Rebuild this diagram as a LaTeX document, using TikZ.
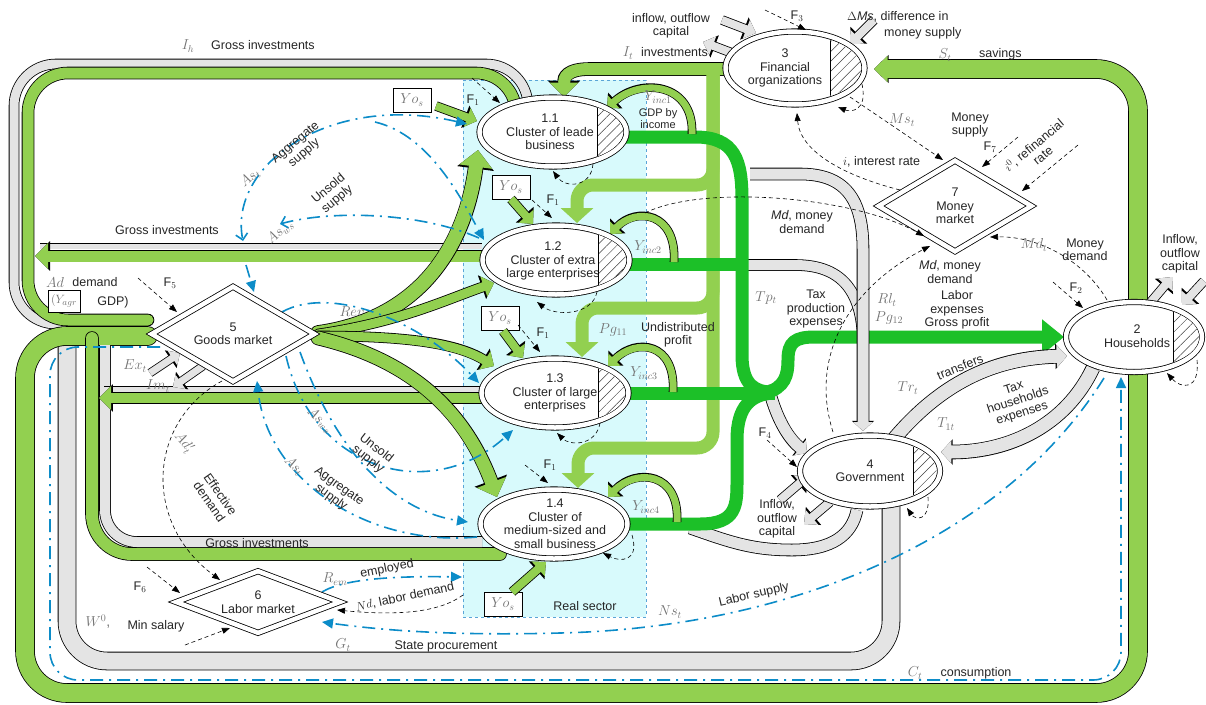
\documentclass[tikz,border=0pt]{standalone}
\usepackage{fontspec}
\setmainfont{Liberation Sans}
\usetikzlibrary{arrows.meta,shapes.geometric,patterns.meta}
\definecolor{gcol}{RGB}{146,208,80}
\definecolor{dgcol}{RGB}{28,192,40}
\definecolor{grcol}{RGB}{228,228,228}
\definecolor{bcol}{RGB}{12,140,200}
\definecolor{rscol}{RGB}{216,250,252}
\definecolor{rsb}{RGB}{90,165,215}
\definecolor{symcol}{RGB}{115,115,115}
\newcommand{\band}[4]{%
  \draw[line width=#1+1.6pt, draw=black, #3] #4;
  \draw[line width=#1, draw=#2, #3] #4;}
\newcommand{\hatchell}[5]{%
  \begin{scope}
    \clip (#1,#2) ellipse [x radius=#3pt, y radius=#4pt];
    \fill[white] (#5,#2-60) rectangle (#1+#3+4,#2+60);
    \fill[pattern={Lines[angle=45,distance=7pt,line width=0.5pt]}, pattern color=black!75] (#5,#2-60) rectangle (#1+#3+4,#2+60);
    \draw[line width=0.7pt] (#5,#2-60) -- (#5,#2+60);
  \end{scope}}
\begin{document}
\begin{tikzpicture}[x=1pt,y=-1pt, font=\fontsize{12.5pt}{13.5pt}\selectfont,
  nd/.style={draw, line width=0.8pt, double, double distance=4.5pt, fill=white, inner sep=0pt},
  ell/.style={nd, ellipse},
  dia/.style={nd, diamond},
  txt/.style={align=center, inner sep=1pt, text=black!85},
  sym/.style={text=symcol, inner sep=0pt, font=\fontsize{14pt}{14pt}\selectfont},
  bl/.style={draw=bcol, line width=1.6pt, dash pattern=on 13pt off 6pt on 2pt off 6pt},
  btip/.style={-{Triangle[width=10pt,length=11pt]}},
  dsh/.style={draw=black, line width=0.6pt, dash pattern=on 4pt off 3pt, -{Triangle[width=6pt,length=8pt]}},
  atip/.style={-{Triangle[width=0pt 2.3,length=0pt 1.2]}},
  gatip/.style={-{Triangle[width=0pt 1.7,length=0pt 0.8]}},
  gbtip/.style={-{Triangle[width=0pt 2.4,length=0pt 1.3]}},
  lgl/.style={draw=gcol, line width=13pt, rounded corners=16pt, -{Triangle[width=32pt,length=15pt]}},
  dg/.style={draw=dgcol, line width=13pt},
  ybox/.style={draw, fill=white, minimum width=38pt, minimum height=24pt, inner sep=0pt, text=symcol, font=\fontsize{14pt}{14pt}\selectfont}]
\useasboundingbox (0,0) rectangle (1206,704);
\fill[white] (0,0) rectangle (1206,704);
% real sector
\node[draw=rsb, dashed, fill=rscol, line width=0.7pt, minimum width=183pt, minimum height=537pt, inner sep=0pt] (rs) at (554.5,348.5) {};
% outer loops
\band{9pt}{grcol}{rounded corners=42pt}{(70,324) -- (14,324) -- (14,64) -- (528,64) [rounded corners=20pt] -- (528,140)}
\band{17pt}{grcol}{rounded corners=40pt}{(891,500) -- (891,661) -- (67,661) -- (67,330)}
\band{18pt}{gcol}{rounded corners=42pt, line cap=round, -{Triangle[width=0pt 1.4,length=0pt 0.75]}}{(148,336) -- (25,336) -- (25,693) -- (1138,693) -- (1138,69) -- (874,69)}
\band{11pt}{gcol}{rounded corners=40pt, line cap=round}{(148,320) -- (28,320) -- (28,73) -- (516,73) [rounded corners=16pt] -- (516,140)}
\band{12pt}{gcol}{rounded corners=40pt, line cap=round}{(500,554) -- (92,554) -- (92,338)}
\band{10pt}{grcol}{rounded corners=32pt}{(482,542) -- (105,542) -- (105,345)}
% middle gross investments
\band{5pt}{grcol}{}{(482,246) -- (40,246)}
\band{11pt}{gcol}{atip}{(482,256) -- (35,256)}
\band{5pt}{grcol}{}{(482,389) -- (104,389)}
\band{10pt}{gcol}{atip}{(482,398) -- (99,398)}
% fan (Rev)
\band{14pt}{gcol}{atip, line cap=round}{(318,333) .. controls (425,318) and (466,240) .. (478,150)}
\band{9pt}{gcol}{atip, line cap=round}{(318,334) .. controls (400,322) and (445,300) .. (494,283)}
\band{9pt}{gcol}{atip, line cap=round}{(318,336) .. controls (400,336) and (455,342) .. (494,366)}
\band{13pt}{gcol}{atip, line cap=round}{(318,338) .. controls (420,362) and (468,420) .. (497,497)}
% grey government bands (under dark green)
\band{10pt}{grcol}{}{(745,265) -- (795,265) .. controls (845,265) and (863,295) .. (863,345)}
\band{11pt}{grcol}{gatip}{(768,385) .. controls (776,420) and (790,440) .. (807,453)}
\band{11pt}{grcol}{}{(690,528) .. controls (730,542) and (752,550) .. (792,550) .. controls (832,550) and (852,535) .. (857,510)}
% light green financial flows
\band{12pt}{gcol}{atip}{(724,69) -- (590,69) .. controls (566,69) and (564,78) .. (564,97)}
\draw[lgl] (713,64) -- (713,185) -- (577,185) -- (577,223);
\draw[lgl] (713,64) -- (713,308) -- (582,308) -- (582,357);
\draw[lgl] (713,64) -- (713,448) -- (578,448) -- (578,488);
% dark green
\draw[dg] (626,137) -- (695,137) .. controls (735,137) and (742,160) .. (742,200) -- (742,355) .. controls (742,385) and (755,392) .. (772,392);
\draw[dg] (628,264) -- (742,264);
\draw[dg] (628,393) -- (775,393);
\draw[dg] (628,524) -- (700,524) .. controls (737,524) and (737,505) .. (737,480) -- (737,440) .. controls (737,405) and (752,395) .. (772,393);
\draw[dg, -{Triangle[width=34pt,length=22pt]}] (765,393) .. controls (785,388) and (788,375) .. (788,360) .. controls (788,342) and (795,337) .. (815,337) -- (1064,337);
% grey bands over dark green
\band{11pt}{grcol}{gatip}{(750,174) -- (800,174) .. controls (850,174) and (863,205) .. (863,250) -- (863,431)}
\band{13pt}{grcol}{gatip}{(893,440) .. controls (945,378) and (1000,358) .. (1067,356)}
\band{13pt}{grcol}{gatip}{(1093,368) .. controls (1066,425) and (1010,452) .. (941,452)}
% GDP by income loops
\band{7pt}{gcol}{gbtip}{(692,134) .. controls (694,82) and (640,78) .. (607,108)}
\band{7pt}{gcol}{gbtip}{(674,262) .. controls (677,212) and (636,207) .. (610,234)}
\band{7pt}{gcol}{gbtip}{(673,392) .. controls (676,342) and (636,338) .. (608,366)}
\band{7pt}{gcol}{gbtip}{(677,522) .. controls (680,472) and (636,468) .. (608,497)}
% small capital arrows
\band{8pt}{grcol}{gbtip}{(722,20) -- (756,33)}
\band{8pt}{grcol}{gbtip}{(740,56) -- (703,42)}
\band{8pt}{grcol}{gbtip}{(874,20) -- (850,44)}
\band{8pt}{grcol}{gbtip}{(1150,303) -- (1172,277)}
\band{8pt}{grcol}{gbtip}{(1204,281) -- (1182,305)}
\band{8pt}{grcol}{gbtip}{(780,500) -- (808,476)}
\band{8pt}{grcol}{gbtip}{(830,502) -- (804,524)}
\band{7pt}{grcol}{gbtip}{(150,373) -- (180,353)}
\band{7pt}{grcol}{gbtip}{(203,366) -- (173,387)}
% GDP boxes and arrows
\node[ybox] (y1) at (412,100) {$Yo_s$};
\node[ybox] (y2) at (511,187) {$Yo_s$};
\node[ybox] (y3) at (500,318) {$Yo_s$};
\node[ybox] (y4) at (503,604) {$Yo_s$};
\band{8pt}{gcol}{gbtip}{(436,106) -- (477,121)}
\band{8pt}{gcol}{gbtip}{(511,199) -- (533,224)}
\band{8pt}{gcol}{gbtip}{(503,331) -- (523,358)}
\band{8pt}{gcol}{gbtip}{(512,592) -- (546,562)}
% blue dash-dot flows
\draw[bl, {Triangle[width=10pt,length=11pt]}-{Straight Barb[width=12pt,length=6pt]}] (467,124) .. controls (330,92) and (228,165) .. (243,241);
\draw[bl, btip] (246,265) -- (254,292);
\draw[bl, btip] (375,122) .. controls (430,135) and (462,200) .. (484,240);
\draw[bl, -{Straight Barb[width=12pt,length=6pt]}] (479,238) .. controls (420,212) and (330,210) .. (280,224);
\draw[bl, btip] (282,312) .. controls (330,285) and (420,320) .. (479,383);
\draw[bl, btip] (286,356) .. controls (312,470) and (430,505) .. (513,430);
\draw[bl, btip] (477,537) .. controls (370,547) and (268,482) .. (257,381);
\draw[bl, btip] (300,352) .. controls (340,462) and (400,512) .. (468,522);
\draw[bl, btip, rounded corners=28pt] (160,347) -- (50,347) -- (50,680) -- (1121,680) -- (1121,377);
\draw[bl, btip] (1104,378) .. controls (1000,545) and (780,628) .. (560,633) .. controls (450,636) and (380,630) .. (322,622);
\draw[bl, btip] (322,592) .. controls (345,578) and (400,576) .. (462,577);
% nodes
\node[ell, minimum width=147pt, minimum height=69pt] (c11) at (553,132) {};
\node[ell, minimum width=147pt, minimum height=69pt] (c12) at (556,260) {};
\node[ell, minimum width=147pt, minimum height=69pt] (c13) at (555,393) {};
\node[ell, minimum width=147pt, minimum height=69pt] (c14) at (554,524) {};
\node[ell, minimum width=139pt, minimum height=73pt] (fo) at (795,68) {};
\node[ell, minimum width=136pt, minimum height=70pt] (hh) at (1134,337) {};
\node[ell, minimum width=140pt, minimum height=71pt] (gov) at (870,471) {};
\node[dia, minimum width=163pt, minimum height=95pt] (gm) at (233,334) {};
\node[dia, minimum width=153pt, minimum height=91pt] (mm) at (955,206) {};
\node[dia, minimum width=164pt, minimum height=62pt] (lm) at (258,602) {};
\node[txt] at (550,132) {1.1\\Cluster of leade\\business};
\node[txt] at (553,261) {1.2\\Cluster of extra\\large enterprises};
\node[txt] at (555,393) {1.3\\Cluster of large\\enterprises};
\node[txt] at (555,524) {1.4\\Cluster of\\medium-sized and\\small business};
\node[txt] at (785,68) {3\\Financial\\organizations};
\node[txt] at (1137,336) {2\\Households};
\node[txt] at (870,471) {4\\Government};
\node[txt] at (233,334) {5\\Goods market};
\node[txt] at (955,206) {7\\Money\\market};
\node[txt] at (258,602) {6\\Labor market};
\hatchell{553}{132}{70}{31.5}{597}
\hatchell{556}{260}{70}{31.5}{598}
\hatchell{555}{393}{70}{31.5}{598}
\hatchell{795}{68}{66}{33}{830}
\hatchell{1134}{337}{65}{31.5}{1173}
\hatchell{870}{471}{66.5}{32}{913}
% dashed arrows
\draw[dsh] (472,78) -- (500,103);
\draw[dsh] (532,200) -- (552,218);
\draw[dsh] (518,325) -- (540,352);
\draw[dsh] (525,465) -- (548,483);
\draw[dsh] (593,164) .. controls (591,188) and (565,188) .. (553,171);
\draw[dsh] (597,292) .. controls (592,316) and (555,316) .. (537,302);
\draw[dsh] (600,423) .. controls (596,446) and (570,446) .. (557,433);
\draw[dsh] (632,535) .. controls (640,562) and (620,562) .. (603,553);
\draw[dsh] (862,84) .. controls (868,112) and (850,112) .. (838,107);
\draw[dsh] (1197,360) .. controls (1200,392) and (1180,388) .. (1167,373);
\draw[dsh] (928,497) .. controls (930,522) and (915,520) .. (907,508);
\draw[dsh] (138,278) -- (177,312);
\draw[dsh] (147,567) -- (180,593);
\draw[dsh] (185,645) -- (230,628);
\draw[dsh] (222,381) .. controls (150,420) and (140,520) .. (220,580);
\draw[dsh] (463,595) .. controls (440,612) and (400,616) .. (337,610);
\draw[dsh] (850,97) -- (943,160);
\draw[dsh] (900,190) .. controls (845,176) and (800,152) .. (797,113);
\draw[dsh] (1018,137) -- (982,167);
\draw[dsh] (1078,145) -- (1022,191);
\draw[dsh] (645,213) .. controls (700,185) and (850,195) .. (924,236);
\draw[dsh] (833,432) .. controls (810,360) and (845,290) .. (930,246);
\draw[dsh] (1107,300) .. controls (1085,262) and (1040,236) .. (990,237);
\draw[dsh] (1053,282) -- (1083,308);
\draw[dsh] (767,440) -- (797,467);
\draw[dsh] (765,10) -- (806,30);
% labels
\node[sym] at (188,46) {$I_h$};
\node[txt, anchor=west] at (210,45) {Gross investments};
\node[txt] at (167,230) {Gross investments};
\node[txt] at (257,543) {Gross investments};
\node[sym] at (628,53) {$I_t$};
\node[txt, anchor=west] at (640,52) {investments};
\node[txt] at (671,26) {inflow, outflow\\capital};
\node[txt, anchor=west] at (846,17) {$\Delta$\textit{Ms}, difference in};
\node[txt, anchor=west] at (883,33) {money supply};
\node[txt] at (797,16) {F$_3$};
\node[sym] at (945,55) {$S_t$};
\node[txt, anchor=west] at (978,54) {savings};
\node[txt] at (970,125) {Money\\supply};
\node[sym] at (902,120) {$Ms_t$};
\node[txt] at (990,147) {F$_7$};
\node[txt, anchor=west] at (842,162) {$i$, interest rate};
\node[txt, rotate=40] at (1038,150) {$i^0$, refinancial\\rate};
\node[sym] at (1034,245) {$Md_t$};
\node[txt] at (1085,250) {Money\\demand};
\node[txt] at (1076,288) {F$_2$};
\node[txt] at (1180,254) {Inflow,\\outflow\\capital};
\node[txt] at (957,310) {Labor\\expenses\\Gross profit};
\node[sym] at (887,300) {$Rl_t$};
\node[sym] at (889,318) {$Pg_{12}$};
\node[txt] at (950,272) {\textit{Md}, money\\demand};
\node[txt] at (802,222) {\textit{Md}, money\\demand};
\node[sym] at (766,298) {$Tp_t$};
\node[txt] at (816,309) {Tax\\production\\expenses};
\node[sym] at (908,388) {$Tr_t$};
\node[txt, rotate=22] at (960,367) {transfers};
\node[sym] at (946,424) {$T_{1t}$};
\node[txt, rotate=18] at (1018,401) {Tax\\households\\expenses};
\node[txt] at (765,433) {F$_4$};
\node[txt] at (777,519) {Inflow,\\outflow\\capital};
\node[txt] at (678,335) {Undistributed\\profit};
\node[sym] at (613,330) {$Pg_{11}$};
\node[sym] at (658,97) {$Y_{inc1}$};
\node[txt, font=\fontsize{11pt}{12pt}\selectfont] at (658,119) {GDP by\\income};
\node[sym] at (648,247) {$Y_{inc2}$};
\node[sym] at (644,373) {$Y_{inc3}$};
\node[sym] at (646,507) {$Y_{inc4}$};
\node[txt] at (585,606) {Real sector};
\node[sym] at (670,612) {$Ns_t$};
\node[txt, rotate=13] at (754,595) {Labor supply};
\node[sym] at (343,645) {$G_t$};
\node[txt] at (446,646) {State procurement};
\node[sym] at (915,673) {$C_t$};
\node[txt] at (976,673) {consumption};
\node[sym] at (98,622) {$W^0$,};
\node[txt] at (156,626) {Min salary};
\node[txt] at (140,587) {F$_6$};
\node[sym] at (335,579) {$R_{em}$};
\node[txt, rotate=11] at (387,569) {employed};
\node[txt, rotate=12] at (405,597) {$Nd$, labor demand};
\node[sym] at (55,282) {$Ad$};
\node[txt] at (95,282) {demand};
\node[draw, fill=white, inner sep=1pt, minimum width=32pt, minimum height=22pt, text=symcol] (yagr) at (64,301) {$(Y_{agr}$};
\node[txt] at (113,302) {GDP)};
\node[txt] at (170,283) {F$_5$};
\node[sym] at (135,366) {$Ex_t$};
\node[sym] at (158,386) {$Im_t$};
\node[sym] at (352,312) {$Rev$};
\node[sym, rotate=40] at (250,178) {$As_t$};
\node[txt, rotate=40] at (300,148) {Aggregate\\supply};
\node[sym, rotate=40] at (280,232) {$As_{ws}$};
\node[txt, rotate=40] at (333,194) {Unsold\\supply};
\node[sym, rotate=-45] at (320,420) {$As_{ws}$};
\node[txt, rotate=-38] at (372,454) {Unsold\\supply};
\node[sym, rotate=-45] at (294,466) {$As_t$};
\node[txt, rotate=-36] at (335,492) {Aggregate\\supply};
\node[sym, rotate=-50] at (184,443) {$Ad'_t$};
\node[txt, rotate=-55] at (215,498) {Effective\\demand};
\node[txt] at (473,100) {F$_1$};
\node[txt] at (553,200) {F$_1$};
\node[txt] at (543,333) {F$_1$};
\node[txt] at (550,465) {F$_1$};
\end{tikzpicture}
\end{document}
